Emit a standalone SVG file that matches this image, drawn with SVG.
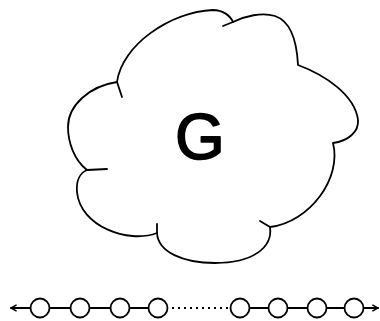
<svg xmlns="http://www.w3.org/2000/svg" width="380" height="321" viewBox="0 0 380 321">
<style>
.ln{fill:none;stroke:#000;stroke-width:1.8;stroke-linecap:round;stroke-linejoin:round}
.nd{fill:#fff;stroke:#000;stroke-width:1.8}
.dot{fill:none;stroke:#000;stroke-width:1.8;stroke-dasharray:2 4}
.lbl{font-family:"Liberation Sans",Arial,sans-serif;font-size:64px;fill:#000;stroke:#000;stroke-width:1.6;stroke-linejoin:round}
</style>
<defs>
<marker id="ah" viewBox="0 0 10 10" refX="9" refY="5" markerWidth="8" markerHeight="8" orient="auto-start-reverse" markerUnits="userSpaceOnUse">
<path d="M2,1 L9,5 L2,9" fill="none" stroke="#000" stroke-width="1.8"/>
</marker>
</defs>
<rect width="380" height="321" fill="#fff"/>
<g id="cloud">
<path class="ln" d="M117,82 C122,45 170,12 213,10 C222,10 230,15 233,22 C245,16 262,12 275,16 C293,22 297,45 298,65 C325,75 355,95 358,120 C359,132 348,141 333,143 C342,178 310,222 270,227 C273,248 252,263 215,263 C183,263 158,252 157,233 C128,244 80,226 77,192 C76,181 80,173 87,170 C74,160 68,142 68,127 C68,105 90,86 117,82"/>
<path class="ln" d="M117,82 L122,97 M233,22 L223,26 M270,227 L260,221 M157,233 L157,224 M87,170 L107,169"/>
<text class="lbl" x="200" y="159" text-anchor="middle">G</text>
</g>
<g id="connectors">
<line class="ln" x1="30" y1="308" x2="11" y2="308" marker-end="url(#ah)"/>
<line class="ln" x1="50" y1="308" x2="70" y2="308"/>
<line class="ln" x1="90" y1="308" x2="110" y2="308"/>
<line class="ln" x1="130" y1="308" x2="148" y2="308"/>
<line class="dot" x1="172" y1="308" x2="228" y2="308"/>
<line class="ln" x1="250" y1="308" x2="268" y2="308"/>
<line class="ln" x1="288" y1="308" x2="307" y2="308"/>
<line class="ln" x1="327" y1="308" x2="344" y2="308"/>
<line class="ln" x1="364" y1="308" x2="378" y2="308" marker-end="url(#ah)"/>
</g>
<g id="n1"><circle class="nd" cx="40" cy="308" r="9.5"/></g>
<g id="n2"><circle class="nd" cx="80" cy="308" r="9.5"/></g>
<g id="n3"><circle class="nd" cx="120" cy="308" r="9.5"/></g>
<g id="n4"><circle class="nd" cx="158" cy="308" r="9.5"/></g>
<g id="n5"><circle class="nd" cx="240" cy="308" r="9.5"/></g>
<g id="n6"><circle class="nd" cx="278" cy="308" r="9.5"/></g>
<g id="n7"><circle class="nd" cx="317" cy="308" r="9.5"/></g>
<g id="n8"><circle class="nd" cx="354" cy="308" r="9.5"/></g>
</svg>
